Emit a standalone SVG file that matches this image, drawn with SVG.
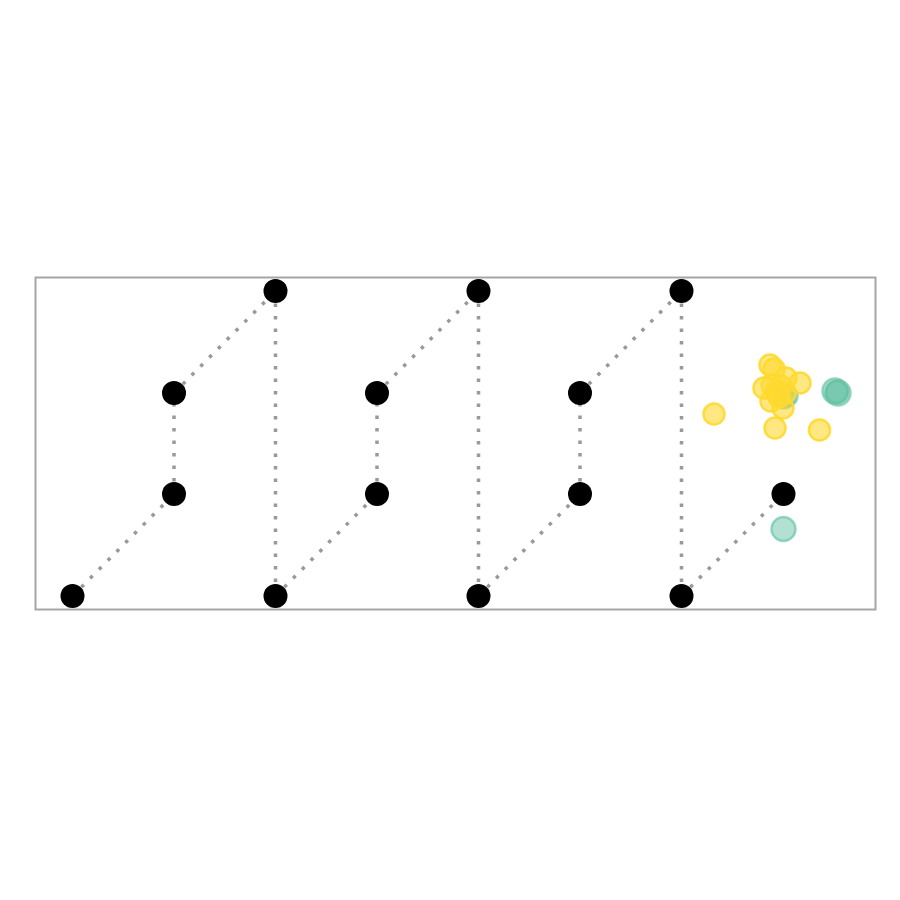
<svg xmlns="http://www.w3.org/2000/svg" width="900" height="900" viewBox="0 0 900 900">
<style>
.e{stroke:#999;stroke-width:3.5;stroke-dasharray:3.5 9;fill:none}
.n{fill:#000}
.g{fill:#66c2a5;fill-opacity:0.5;stroke:#66c2a5;stroke-opacity:0.65;stroke-width:2.5}
.y{fill:#ffd92f;fill-opacity:0.6;stroke:#ffd92f;stroke-opacity:0.9;stroke-width:2.5}
</style>
<rect x="0" y="0" width="900" height="900" fill="#fff"/>
<rect x="35.5" y="277.5" width="840" height="332" fill="none" stroke="#a6a6a6" stroke-width="2"/>
<g id="edges">
<line class="e" x1="72.5" y1="596" x2="174" y2="494"/>
<line class="e" x1="174" y1="494" x2="174" y2="393"/>
<line class="e" x1="174" y1="393" x2="275.5" y2="291"/>
<line class="e" x1="275.5" y1="291" x2="275.5" y2="596"/>
<line class="e" x1="275.5" y1="596" x2="377" y2="494"/>
<line class="e" x1="377" y1="494" x2="377" y2="393"/>
<line class="e" x1="377" y1="393" x2="478.5" y2="291"/>
<line class="e" x1="478.5" y1="291" x2="478.5" y2="596"/>
<line class="e" x1="478.5" y1="596" x2="580" y2="494"/>
<line class="e" x1="580" y1="494" x2="580" y2="393"/>
<line class="e" x1="580" y1="393" x2="681.5" y2="291"/>
<line class="e" x1="681.5" y1="291" x2="681.5" y2="596"/>
<line class="e" x1="681.5" y1="596" x2="783.5" y2="494"/>
</g>
<g id="n1"><circle class="n" cx="72.5" cy="596" r="12"/></g>
<g id="n2"><circle class="n" cx="174" cy="494" r="12"/></g>
<g id="n3"><circle class="n" cx="174" cy="393" r="12"/></g>
<g id="n4"><circle class="n" cx="275.5" cy="291" r="12"/></g>
<g id="n5"><circle class="n" cx="275.5" cy="596" r="12"/></g>
<g id="n6"><circle class="n" cx="377" cy="494" r="12"/></g>
<g id="n7"><circle class="n" cx="377" cy="393" r="12"/></g>
<g id="n8"><circle class="n" cx="478.5" cy="291" r="12"/></g>
<g id="n9"><circle class="n" cx="478.5" cy="596" r="12"/></g>
<g id="n10"><circle class="n" cx="580" cy="494" r="12"/></g>
<g id="n11"><circle class="n" cx="580" cy="393" r="12"/></g>
<g id="n12"><circle class="n" cx="681.5" cy="291" r="12"/></g>
<g id="n13"><circle class="n" cx="681.5" cy="596" r="12"/></g>
<g id="n14"><circle class="n" cx="783.5" cy="494" r="12"/></g>
<g id="scatter">
<circle class="g" cx="783.5" cy="529" r="12"/>
<circle class="g" cx="835" cy="391" r="12.5"/>
<circle class="g" cx="838" cy="393" r="12.5"/>
<circle class="g" cx="837" cy="392" r="11"/>
<circle class="g" cx="787" cy="396" r="10.5"/>
<circle class="g" cx="784" cy="398" r="10.5"/>
<circle class="y" cx="714" cy="414" r="10.5"/>
<circle class="y" cx="775" cy="428" r="10.5"/>
<circle class="y" cx="819.5" cy="430" r="10.5"/>
<circle class="y" cx="770" cy="365" r="10.5"/>
<circle class="y" cx="774" cy="369" r="10.5"/>
<circle class="y" cx="764" cy="388" r="10.5"/>
<circle class="y" cx="800" cy="383" r="10.5"/>
<circle class="y" cx="786" cy="378" r="10.5"/>
<circle class="y" cx="783" cy="408" r="10.5"/>
<circle class="y" cx="771" cy="401" r="10.5"/>
<circle class="y" cx="776" cy="392" r="10.5"/>
<circle class="y" cx="781" cy="386" r="10.5"/>
<circle class="y" cx="785" cy="393" r="10.5"/>
<circle class="y" cx="779" cy="397" r="10.5"/>
<circle class="y" cx="772" cy="385" r="10.5"/>
</g>
</svg>
